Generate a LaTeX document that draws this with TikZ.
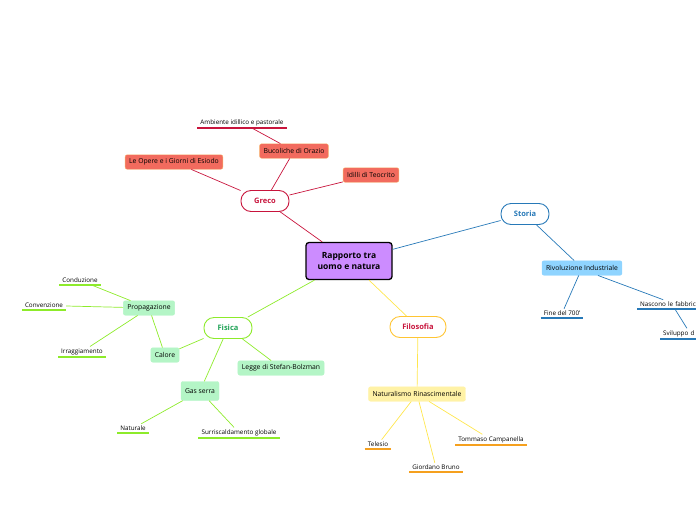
\documentclass[tikz,border=0pt]{standalone}
\usepackage{fontspec}
\setmainfont{Open Sans}
\usetikzlibrary{positioning}

\definecolor{rootfill}{HTML}{CC8CFF}
\definecolor{grecoline}{HTML}{C8143C}
\definecolor{grecofill}{HTML}{F26B5E}
\definecolor{grecoedge}{HTML}{F7B26A}
\definecolor{storialine}{HTML}{2779B8}
\definecolor{storiafill}{HTML}{8FD4FF}
\definecolor{fisicaline}{HTML}{8DEB2A}
\definecolor{fisicafill}{HTML}{B4F5C6}
\definecolor{fisicatext}{HTML}{1FA356}
\definecolor{filoline}{HTML}{FFE64D}
\definecolor{filoedge}{HTML}{FFC533}
\definecolor{filofill}{HTML}{FFF2A6}
\definecolor{filoleaf}{HTML}{F5A01E}

\begin{document}
\begin{tikzpicture}[
    x=1pt, y=-1pt,
    font=\fontsize{6.3}{7.5}\selectfont,
    root/.style={
        draw=black,
        line width=1.3pt,
        fill=rootfill,
        rounded corners=3pt,
        minimum width=86pt,
        minimum height=37pt,
        align=center,
        font=\fontsize{8.5}{10.5}\selectfont\bfseries
    },
    topic/.style 2 args={
        draw=#1,
        text=#2,
        line width=0.9pt,
        fill=white,
        rounded corners=10pt,
        minimum width=48pt,
        minimum height=21pt,
        font=\fontsize{7.5}{9}\selectfont\bfseries
    },
    sub/.style 2 args={
        fill=#1,
        draw=#2,
        line width=0.4pt,
        rounded corners=2pt,
        minimum height=14.5pt,
        inner xsep=4pt,
        font=\fontsize{6.8}{8}\selectfont
    },
    leaf/.style={
        anchor=south,
        inner xsep=3pt,
        inner ysep=2pt,
        append after command={(\tikzlastnode.south west)
            edge[draw=#1, line width=1.2pt] (\tikzlastnode.south east)}
    },
    link/.style={draw=#1, line width=0.7pt}
]
\useasboundingbox (0,0) rectangle (696,520);
\clip (0,0) rectangle (696,520);

% ============================================================
% CENTRO
% ============================================================
\node[root] (root) at (349,261) {Rapporto tra\\uomo e natura};

% ============================================================
% GRECO
% ============================================================
\node[topic={grecoline}{grecoline}] (greco) at (265,201) {Greco};
\node[sub={grecofill}{grecoedge}] (esiodo) at (174,162) {Le Opere e i Giorni di Esiodo};
\node[sub={grecofill}{grecoedge}] (bucoliche) at (294,151) {Bucoliche di Orazio};
\node[sub={grecofill}{grecoedge}] (idilli) at (371,175) {Idilli di Teocrito};
\node[leaf=grecoline] (ambiente) at (242,128) {Ambiente idillico e pastorale};

\draw[link=grecoline] (root) -- (greco);
\draw[link=grecoline] (greco) -- (esiodo);
\draw[link=grecoline] (greco) -- (bucoliche);
\draw[link=grecoline] (greco) -- (idilli);
\draw[link=grecoline] (bucoliche) -- (ambiente);

% ============================================================
% STORIA
% ============================================================
\node[topic={storialine}{storialine}] (storia) at (525,214) {Storia};
\node[sub={storiafill}{storiafill}] (rivoluzione) at (582,268) {Rivoluzione Industriale};
\node[leaf=storialine] (fine) at (562,318) {Fine del 700'};
\node[leaf=storialine, anchor=south west, text width=66pt, align=left]
    (fabbriche) at (637,309) {Nascono le fabbriche};
\node[leaf=storialine, anchor=south west, text width=66pt, align=left]
    (sviluppo) at (660,339) {Sviluppo d};

\draw[link=storialine] (root) -- (storia);
\draw[link=storialine] (storia) -- (rivoluzione);
\draw[link=storialine] (rivoluzione) -- (fine);
\draw[link=storialine] (rivoluzione.-25) -- (fabbriche.155);
\draw[link=storialine] (fabbriche.-70) -- (sviluppo.150);

% ============================================================
% FISICA
% ============================================================
\node[topic={fisicaline}{fisicatext}] (fisica) at (228,328) {Fisica};
\node[sub={fisicafill}{fisicafill}] (propagazione) at (149,308) {Propagazione};
\node[sub={fisicafill}{fisicafill}] (calore) at (165,355) {Calore};
\node[sub={fisicafill}{fisicafill}, minimum height=19pt] (gasserra) at (200,391) {Gas serra};
\node[sub={fisicafill}{fisicafill}] (legge) at (281,368) {Legge di Stefan-Bolzman};
\node[leaf=fisicaline] (conduzione) at (80,285) {Conduzione};
\node[leaf=fisicaline] (convenzione) at (44,310) {Convenzione};
\node[leaf=fisicaline] (irraggiamento) at (82,357) {Irraggiamento};
\node[leaf=fisicaline] (naturale) at (133,433) {Naturale};
\node[leaf=fisicaline] (surriscaldamento) at (239,438) {Surriscaldamento globale};

\draw[link=fisicaline] (root) -- (fisica);
\draw[link=fisicaline] (fisica) -- (calore);
\draw[link=fisicaline] (fisica) -- (gasserra);
\draw[link=fisicaline] (fisica) -- (legge);
\draw[link=fisicaline] (calore) -- (propagazione);
\draw[link=fisicaline] (propagazione) -- (conduzione);
\draw[link=fisicaline] (propagazione) -- (convenzione);
\draw[link=fisicaline] (propagazione) -- (irraggiamento);
\draw[link=fisicaline] (gasserra) -- (naturale);
\draw[link=fisicaline] (gasserra) -- (surriscaldamento);

% ============================================================
% FILOSOFIA
% ============================================================
\node[topic={filoedge}{grecoline}, minimum width=56pt] (filosofia) at (418,327) {Filosofia};
\node[sub={filofill}{filofill}] (naturalismo) at (417,394) {Naturalismo Rinascimentale};
\node[leaf=filoleaf] (telesio) at (378,449) {Telesio};
\node[leaf=filoleaf] (giordano) at (436,472) {Giordano Bruno};
\node[leaf=filoleaf] (tommaso) at (491,445) {Tommaso Campanella};

\draw[link=filoline] (root) -- (filosofia);
\draw[link=filoline] (filosofia) -- (naturalismo);
\draw[link=filoline] (naturalismo) -- (telesio);
\draw[link=filoline] (naturalismo) -- (giordano);
\draw[link=filoline] (naturalismo) -- (tommaso);

\end{tikzpicture}
\end{document}
